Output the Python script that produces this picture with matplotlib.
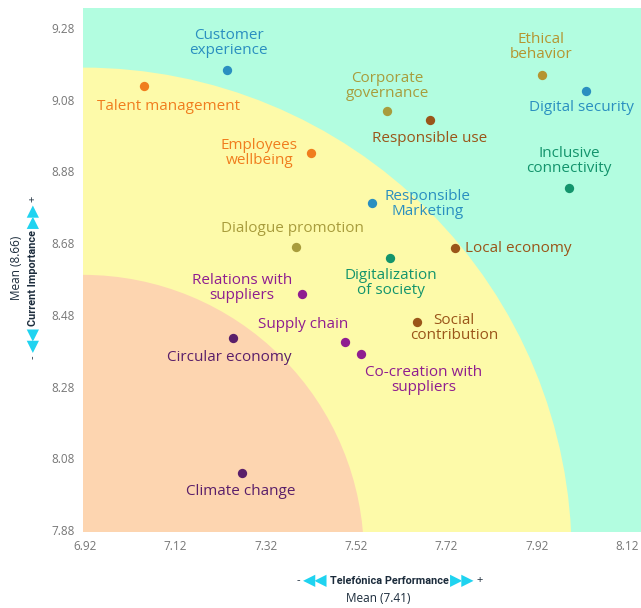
import matplotlib.pyplot as plt
from matplotlib.patches import Ellipse

# materiality matrix data
labels = ["Customer\nexperience", "Talent management", "Ethical\nbehavior", "Digital security",
          "Corporate\ngovernance", "Responsible use", "Employees\nwellbeing", "Inclusive\nconnectivity",
          "Responsible\nMarketing", "Dialogue promotion", "Local economy", "Digitalization\nof society",
          "Relations with\nsuppliers", "Social\ncontribution", "Circular economy", "Supply chain",
          "Co-creation with\nsuppliers", "Climate change"]
performance = [7.234, 7.051, 7.932, 8.029, 7.589, 7.684, 7.420, 7.992, 7.555,
               7.387, 7.739, 7.595, 7.400, 7.655, 7.248, 7.496, 7.531, 7.268]
importance = [9.163, 9.118, 9.149, 9.104, 9.048, 9.023, 8.931, 8.834, 8.792,
              8.669, 8.666, 8.638, 8.538, 8.460, 8.415, 8.404, 8.371, 8.039]
groups = ["blue", "orange", "gold", "blue", "olive", "brown", "orange", "green", "blue",
          "olive", "brown", "green", "magenta", "brown", "purple", "magenta", "magenta", "purple"]

x_ticks = [6.92, 7.12, 7.32, 7.52, 7.72, 7.92, 8.12]
y_ticks = [7.88, 8.08, 8.28, 8.48, 8.68, 8.88, 9.08, 9.28]

colors = {"blue": "#2a8fc0", "orange": "#f07d1e", "gold": "#b59530", "olive": "#a89c3c",
          "brown": "#9a5519", "green": "#13946c", "magenta": "#8f1d90", "purple": "#5a1f6a"}

# label placement: offset in pixels, ha
placement = [((2, 27), "center"), ((24, -20), "center"), ((-1, 28), "center"), ((-4, -16), "center"),
             ((0, 25), "center"), ((0, -18), "center"), ((-13, 0), "right"), ((0, 27), "center"),
             ((13, -1), "left"), ((-3, 19), "center"), ((10, 0), "left"), ((1, -25), "center"),
             ((-10, 6), "right"), ((37, -6), "center"), ((-4, -19), "center"), ((-42, 18), "center"),
             ((63, -26), "center"), ((-1, -19), "center")]

plt.rcParams['font.family'] = ['Open Sans', 'DejaVu Sans']

fig = plt.figure(figsize=(6.41, 6.08), dpi=100)
ax = fig.add_axes([83 / 641, 76 / 608, 558 / 641, 524 / 608])

ax.set_xlim(6.9156, 8.151)
ax.set_ylim(7.8744, 9.3357)
ax.set_facecolor("#b2fde0")

cx, cy = 6.9156, 7.8075
ax.add_patch(Ellipse((cx, cy), 2 * 1.082, 2 * 1.362, facecolor="#fdfaa9", edgecolor="none", zorder=1))
ax.add_patch(Ellipse((cx, cy), 2 * 0.622, 2 * 0.784, facecolor="#fdd5b0", edgecolor="none", zorder=2))

for i in range(len(labels)):
    c = colors[groups[i]]
    ax.scatter(performance[i], importance[i], s=45, color=c, zorder=5, linewidths=0)
    off, ha = placement[i]
    ax.annotate(labels[i], (performance[i], importance[i]), xytext=off, textcoords="offset pixels",
                ha=ha, va="center", multialignment="center", color=c, fontsize=11,
                linespacing=1.05, zorder=6)

ax.set_xticks(x_ticks)
ax.set_yticks(y_ticks)
ax.set_xticklabels([f"{v:.2f}" for v in x_ticks])
ax.set_yticklabels([f"{v:.2f}" for v in y_ticks])
ax.tick_params(length=0, labelsize=8.5, labelcolor="#777777", pad=6)
for s in ax.spines.values():
    s.set_visible(False)

# axis titles: pieces laid out next to each other
arrow_c = "#1fd3f0"
navy = "#1b2b3b"
W, H = 641, 608
renderer = fig.canvas.get_renderer()


def title_row(cx_px, cy_px, text, vertical):
    rot = 90 if vertical else 0
    pos = (lambda d: (cx_px / W, 1 - (cy_px - d) / H)) if vertical else (lambda d: ((cx_px + d) / W, 1 - cy_px / H))
    t = fig.text(*pos(0), text, ha="center", va="center", fontsize=7.8, fontweight="bold",
                 color=navy, rotation=rot, family=["Roboto", "DejaVu Sans"])
    bb = t.get_window_extent(renderer)
    half = (bb.height if vertical else bb.width) / 2
    for sign, arr, pm in [(-1, "◀◀", "-"), (1, "▶▶", "+")]:
        fig.text(*pos(sign * (half + 14)), arr, ha="center", va="center", fontsize=11.5,
                 color=arrow_c, rotation=rot, family="DejaVu Sans")
        fig.text(*pos(sign * (half + 31)), pm, ha="center", va="center", fontsize=8,
                 color=navy, rotation=rot)


title_row(389, 581, "Telefónica Performance", False)
title_row(33, 278, "Current Importance", True)
fig.text(378 / W, 1 - 598 / H, "Mean (7.41)", ha="center", va="center", fontsize=8.5, color=navy)
fig.text(17 / W, 1 - 268 / H, "Mean (8.66)", ha="center", va="center", fontsize=8.5, color=navy,
         rotation=90)

fig.savefig("out.png", dpi=100)
